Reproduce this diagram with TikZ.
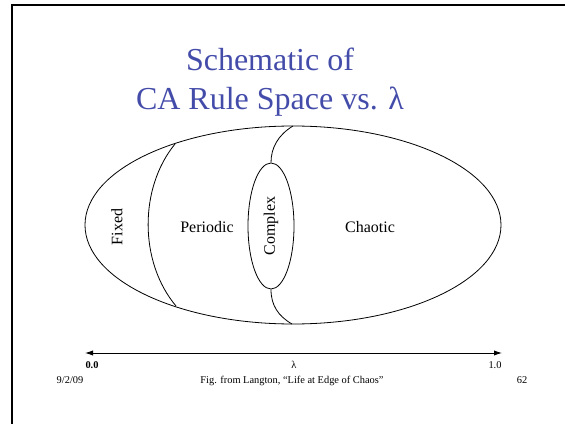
\documentclass[tikz,border=0pt]{standalone}
\usepackage{fontspec}
\setmainfont{Liberation Serif}
\usetikzlibrary{shapes.geometric,arrows.meta}
\definecolor{titleblue}{RGB}{68,76,170}
\begin{document}
\begin{tikzpicture}[x=0.75pt,y=0.75pt,
        region/.style={font=\fontsize{12}{14}\selectfont},
        small/.style={font=\fontsize{7.8}{9}\selectfont, anchor=base},
        titletext/.style={font=\fontsize{24}{29}\selectfont, text=titleblue, anchor=base},
        thinline/.style={line width=0.6pt}]
    \useasboundingbox (0,0) rectangle (565,-424);
    \clip (0,0) rectangle (565,-424);
    % slide frame
    \draw[line width=1.5pt] (12,-5) rectangle (600,-460);
    \node[titletext] (title1) at (270,-71) {Schematic of};
    \node[titletext] (title2) at (270,-110) {CA Rule Space vs. λ};
    % rule space
    \coordinate (O) at (293,-225);
    \draw[thinline] (O) ellipse [x radius=208, y radius=99];
    \coordinate (Ft) at (175,-144);
    \coordinate (Fb) at (176,-306);
    \draw[thinline] (Ft) .. controls (139,-188) and (139,-262) .. (Fb);
    \node[thinline, draw, ellipse, rotate=90, minimum width=94.5pt, minimum height=34.5pt,
          inner sep=0pt, region] (complex) at (271,-226) {Complex};
    \coordinate (Ct) at (293,-126);
    \coordinate (Cb) at (292,-324);
    \draw[thinline] (Ct) .. controls (278,-135) and (271,-148) .. (complex.east);
    \draw[thinline] (complex.west) .. controls (271,-305) and (278,-316) .. (Cb);
    \node[region, rotate=90] (fixed) at (117,-227) {Fixed};
    \node[region] (periodic) at (207,-227) {Periodic};
    \node[region] (chaotic) at (370,-227) {Chaotic};
    % lambda axis
    \coordinate (a0) at (85,-353);
    \coordinate (a1) at (502,-353);
    \draw[line width=0.7pt, {Latex[length=6pt,width=4pt]}-{Latex[length=6pt,width=4pt]}] (a0) -- (a1);
    \node[small] (lo) at (92,-369) {\textbf{0.0}};
    \node[small] (lam) at (294,-369) {λ};
    \node[small] (hi) at (495,-369) {1.0};
    % footer
    \node[small] (date) at (70,-384) {9/2/09};
    \node[small] (caption) at (292,-384) {Fig. from Langton, “Life at Edge of Chaos”};
    \node[small] (page) at (522,-384) {62};
\end{tikzpicture}
\end{document}
